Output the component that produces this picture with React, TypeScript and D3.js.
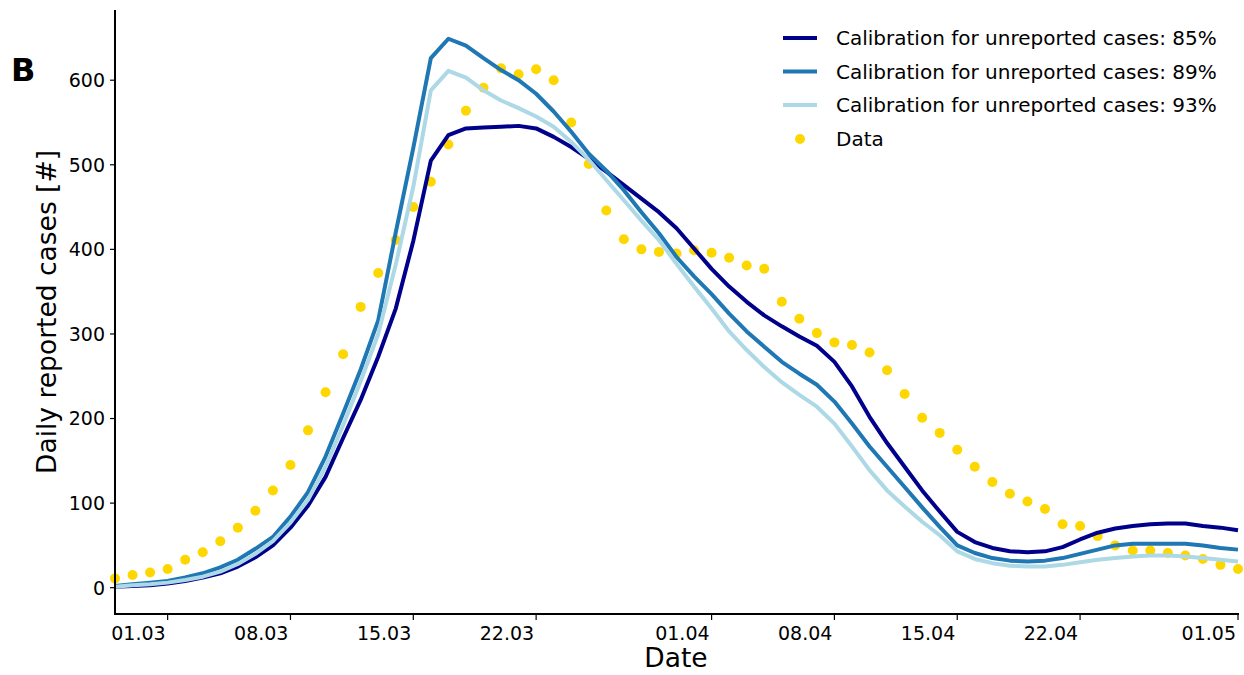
import React from "react";
import * as d3 from "d3";

const startDate = "2020-02-27";
const dataCases = [11,15,18,22,33,42,55,71,91,115,145,186,231,276,332,372,411,450,480,524,564,591,614,607,613,600,550,501,446,412,400,397,395,399,396,390,381,377,338,318,301,290,287,278,257,229,201,183,163,143,125,111,102,93,75,73,61,50,44,44,41,38,34,27,22];
const calib85 = [1,2,3,5,8,12,17,25,36,50,71,97,131,177,222,273,330,410,505,535,543,544,545,546,543,533,521,507,492,476,460,444,425,401,377,356,338,322,309,297,286,267,238,202,171,143,115,90,66,54,47,43,42,43,48,57,65,70,73,75,76,76,73,71,68];
const calib89 = [2,4,6,8,12,17,24,33,46,60,84,113,155,206,258,316,420,520,626,649,641,626,612,600,584,563,539,513,493,470,444,419,391,368,347,324,303,285,267,253,240,220,194,167,143,119,95,72,50,41,35,32,31,32,35,40,45,50,52,52,52,52,50,47,45];
const calib93 = [1,3,4,6,9,13,19,28,40,55,77,104,143,192,244,300,382,474,588,611,603,588,576,567,557,545,527,506,482,458,434,411,383,356,330,303,281,261,243,228,214,194,167,139,115,96,78,62,43,34,29,26,25,25,27,30,33,35,37,38,38,37,35,33,31];
const xTickDates = ["2020-03-01","2020-03-08","2020-03-15","2020-03-22","2020-04-01","2020-04-08","2020-04-15","2020-04-22","2020-05-01"];
const xTickLabels = ["01.03","08.03","15.03","22.03","01.04","08.04","15.04","22.04","01.05"];
const yTicks = [0,100,200,300,400,500,600];
const seriesNames = ["Calibration for unreported cases: 85%","Calibration for unreported cases: 89%","Calibration for unreported cases: 93%"];
const seriesColors = ["#00008b","#1f77b4","#add8e6"];
const dataLabel = "Data";

const W = 1244, H = 675;
const FONT = "DejaVu Sans, sans-serif";

export default function App() {
  const start = new Date(startDate + "T00:00:00Z");
  const dates = dataCases.map((_, i) => d3.utcDay.offset(start, i));
  const x = d3.scaleUtc().domain([start, new Date("2020-05-01T00:00:00Z")]).range([115, 1238]);
  const y = d3.scaleLinear().domain([-31.1, 683]).range([614, 10]);
  const line = d3.line<number>().x((_, i) => x(dates[i])).y((v) => y(v));
  const series = [calib85, calib89, calib93];

  return (
    <svg width={W} height={H} style={{ position: "absolute", left: 0, top: 0, background: "#fff" }} fontFamily={FONT}>
      <rect width={W} height={H} fill="#fff" />
      {/* data dots */}
      {dataCases.map((v, i) => (
        <circle key={"d" + i} cx={x(dates[i])} cy={y(v)} r={5} fill="#ffd700" />
      ))}
      {/* model lines */}
      {series.map((s, k) => (
        <path key={"s" + k} d={line(s) || ""} fill="none" stroke={seriesColors[k]} strokeWidth={4} strokeLinejoin="round" strokeLinecap="butt" />
      ))}
      {/* axes */}
      <line x1={115} x2={115} y1={10} y2={615} stroke="#000" strokeWidth={2} />
      <line x1={114} x2={1239} y1={614} y2={614} stroke="#000" strokeWidth={2} />
      {yTicks.map((t) => (
        <g key={"y" + t}>
          <line x1={110} x2={115} y1={y(t)} y2={y(t)} stroke="#000" strokeWidth={1.2} />
          <text x={105} y={y(t)} dy="0.36em" textAnchor="end" fontSize={19} fill="#000">{t}</text>
        </g>
      ))}
      {xTickDates.map((t, i) => {
        const xx = x(new Date(t + "T00:00:00Z"));
        return (
          <g key={"x" + t}>
            <line x1={xx} x2={xx} y1={614} y2={620} stroke="#000" strokeWidth={1.2} />
            <text x={xx - 2} y={640} textAnchor="end" fontSize={19} fill="#000">{xTickLabels[i]}</text>
          </g>
        );
      })}
      <text x={676} y={667} textAnchor="middle" fontSize={26.5} fill="#000">Date</text>
      <text transform="translate(56,312) rotate(-90)" textAnchor="middle" fontSize={26.5} fill="#000">Daily reported cases [#]</text>
      <text x={11} y={81} fontSize={32} fontWeight="bold" fill="#000">B</text>
      {/* legend */}
      {seriesNames.map((n, k) => {
        const yy = 38 + k * 33.5;
        return (
          <g key={"l" + k}>
            <line x1={783} x2={817} y1={yy} y2={yy} stroke={seriesColors[k]} strokeWidth={4} />
            <text x={836} y={yy} dy="0.36em" fontSize={20} fill="#000">{n}</text>
          </g>
        );
      })}
      <circle cx={800} cy={139} r={5} fill="#ffd700" />
      <text x={836} y={139} dy="0.36em" fontSize={20} fill="#000">{dataLabel}</text>
    </svg>
  );
}
